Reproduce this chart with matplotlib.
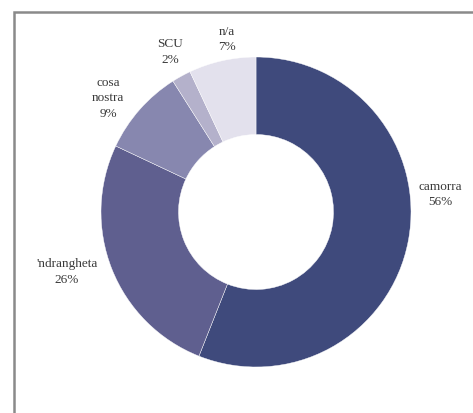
import matplotlib.pyplot as plt
from matplotlib.patches import Rectangle

# Dati
gruppi = ['camorra', "'ndrangheta", 'cosa\nnostra', 'SCU', 'n/a']
quote = [56, 26, 9, 2, 7]
colori = ['#3f4a7c', '#5f5f8f', '#8787af', '#b4b1cb', '#e3e1ed']

# posizioni delle etichette (unità del raggio)
pos_etichette = [(1.19, 0.12), (-1.22, -0.38), (-0.955, 0.74), (-0.555, 1.04), (-0.19, 1.12)]

fig = plt.figure(figsize=(4.73, 4.14), dpi=100)
ax = fig.add_axes([0, 0, 1, 1])

ax.pie(quote, colors=colori, startangle=90, counterclock=False,
       radius=1.0, wedgeprops=dict(width=0.5, edgecolor='white', linewidth=0.3))

for nome, q, (x, y) in zip(gruppi, quote, pos_etichette):
    ax.text(x, y, f'{nome}\n{q}%', ha='center', va='center', fontsize=9.5,
            family='Liberation Serif', color='#3a3a3a', linespacing=1.4)

ax.set_xlim(-256 / 155, (473 - 256) / 155)
ax.set_ylim(-(414 - 213) / 155, 213 / 155)
ax.set_aspect('auto')
ax.axis('off')

# cornice grigia
fig.patches.append(Rectangle((14 / 473, -0.1), 1.2, 1.1 - 13 / 414,
                             transform=fig.transFigure, fill=False,
                             edgecolor='#8a8a8a', linewidth=1.8))

fig.savefig('out.png', dpi=100)
